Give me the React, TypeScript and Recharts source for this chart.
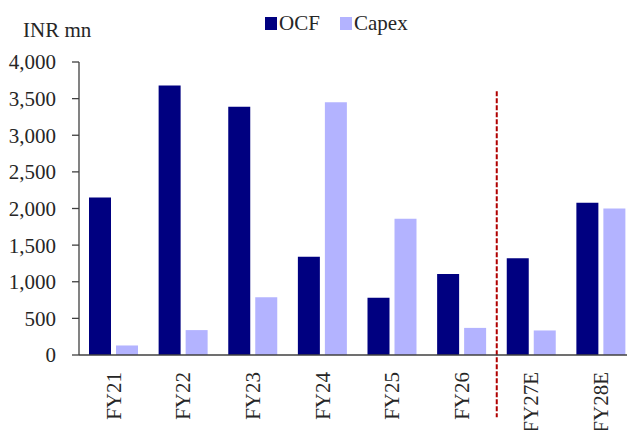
import React from 'react';
import { BarChart, Bar, XAxis, YAxis, ReferenceLine } from 'recharts';

const categories = ['FY21', 'FY22', 'FY23', 'FY24', 'FY25', 'FY26', 'FY27E', 'FY28E'];
const ocf = [2150, 3680, 3390, 1340, 780, 1105, 1320, 2080];
const capex = [130, 340, 790, 3450, 1860, 370, 335, 2000];
const yTicks = [0, 500, 1000, 1500, 2000, 2500, 3000, 3500, 4000];
const seriesNames = ['OCF', 'Capex'];
const seriesColors = ['#000080', '#B3B3FF'];
const unitLabel = 'INR mn';
const dividerAfter = 'FY26';
const dividerSpan = [3600, -850];

const data = categories.map((c, i) => ({ name: c, OCF: ocf[i], Capex: capex[i] }));

const FONT = '"Liberation Serif", "Times New Roman", serif';
const TEXT = '#262626';
const AXIS = '#404040';

const fmt = (v: number) => v.toLocaleString('en-US');

const XTick = (props: any) => {
  const { x, y, payload } = props;
  return (
    <text
      x={x}
      y={y}
      dy="0.33em"
      transform={`rotate(-90, ${x}, ${y})`}
      textAnchor="end"
      fontFamily={FONT}
      fontSize={21}
      fill={TEXT}
    >
      {payload.value}
    </text>
  );
};

export default function App() {
  return (
    <div style={{ position: 'absolute', left: 0, top: 0, width: 627, height: 430, overflow: 'hidden', background: '#fff' }}>
      <BarChart
        width={640}
        height={430}
        data={data}
        margin={{ top: 62, right: 4, left: 0, bottom: 0 }}
        barSize={22}
        barGap={5}
      >
        <YAxis
          width={79}
          domain={[0, 4000]}
          ticks={yTicks}
          tickFormatter={fmt}
          axisLine={{ stroke: AXIS, strokeWidth: 1.3 }}
          tickLine={{ stroke: AXIS, strokeWidth: 1.3 }}
          tickSize={7}
          tickMargin={16}
          tick={{ fontFamily: FONT, fontSize: 21, fill: TEXT }}
          interval={0}
        />
        <XAxis
          dataKey="name"
          height={75}
          axisLine={{ stroke: AXIS, strokeWidth: 1.3 }}
          tickLine={false}
          tickSize={0}
          tickMargin={17}
          interval={0}
          tick={<XTick />}
        />
        <Bar dataKey="OCF" fill={seriesColors[0]} isAnimationActive={false} />
        <Bar dataKey="Capex" fill={seriesColors[1]} isAnimationActive={false} />
        <ReferenceLine
          segment={[
            { x: dividerAfter, y: dividerSpan[0] },
            { x: dividerAfter, y: dividerSpan[1] },
          ]}
          position="end"
          ifOverflow="visible"
          stroke="#B00000"
          strokeWidth={2}
          strokeDasharray="5 2"
        />
      </BarChart>
      <svg
        width={627}
        height={430}
        style={{ position: 'absolute', left: 0, top: 0, pointerEvents: 'none' }}
      >
        <text x={23} y={37} fontFamily={FONT} fontSize={21} fill={TEXT}>
          {unitLabel}
        </text>
        {seriesNames.map((n, i) => {
          const left = i === 0 ? 265 : 340;
          return (
            <g key={n}>
              <rect x={left} y={17} width={12} height={13} fill={seriesColors[i]} />
              <text x={left + 14} y={30} fontFamily={FONT} fontSize={21} fill={TEXT}>
                {n}
              </text>
            </g>
          );
        })}
      </svg>
    </div>
  );
}
